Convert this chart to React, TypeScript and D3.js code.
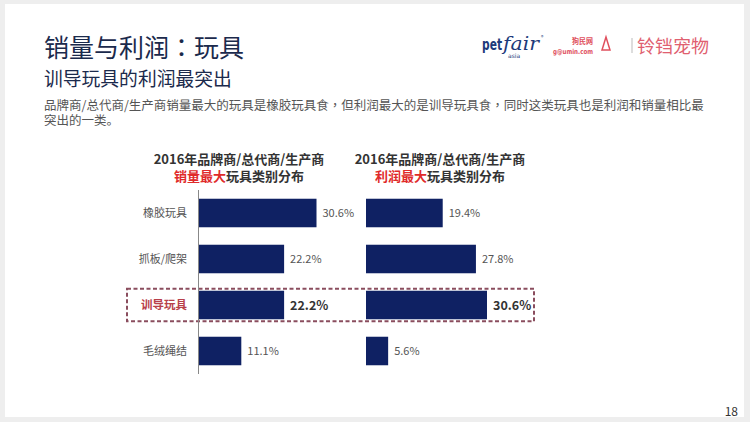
import React from "react";
import * as d3 from "d3";

const categories = ["橡胶玩具", "抓板/爬架", "训导玩具", "毛绒绳结"];
const salesShare = [30.6, 22.2, 22.2, 11.1];
const profitShare = [19.4, 27.8, 30.6, 5.6];
const highlightCategory = "训导玩具";
const leftTitle1 = "2016年品牌商/总代商/生产商";
const leftTitleRed = "销量最大";
const rightTitleRed = "利润最大";
const titleRest = "玩具类别分布";

const FONT = "'Noto Sans CJK SC', 'Noto Sans', sans-serif";
const TC = "'Noto Sans CJK TC', sans-serif";
const NAVY = "#0f2163";
const W = 750;
const H = 422;

export default function App() {
  const y = d3
    .scaleBand<string>()
    .domain(categories)
    .range([190, 374])
    .paddingInner(0.38)
    .paddingOuter(0.19);
  const xL = d3.scaleLinear().domain([0, 30.6]).range([198.5, 316.5]);
  const xR = d3.scaleLinear().domain([0, 30.6]).range([366, 487]);
  const bw = y.bandwidth();
  const hl = y(highlightCategory)!;

  const charts = [
    { x: xL, vals: salesShare, cx: 239, red: leftTitleRed },
    { x: xR, vals: profitShare, cx: 440, red: rightTitleRed },
  ];

  return (
    <div style={{ position: "absolute", left: 0, top: 0, width: W, height: H }}>
      <svg width={W} height={H} style={{ display: "block" }} fontFamily={FONT}>
        <rect x={0} y={0} width={W} height={H} fill="#eeeeee" />
        <rect x={5} y={4} width={739} height={413} fill="#ffffff" />

        {/* Titles */}
        <text x={44} y={57} fontSize={25} fill="#1b2a4c">
          销量与利润<tspan fontFamily={TC}>：</tspan>玩具
        </text>
        <text x={44} y={86} fontSize={18.8} fill="#1b2a4c">训导玩具的利润最突出</text>
        <text x={44} y={110} fontSize={12.5} fill="#555">
          品牌商/总代商/生产商销量最大的玩具是橡胶玩具食<tspan fontFamily={TC}>，</tspan>但利润最大的是训导玩具食<tspan fontFamily={TC}>，</tspan>同时这类玩具也是利润和销量相比最
        </text>
        <text x={44} y={125} fontSize={12.5} fill="#555">突出的一类。</text>

        {/* Logo */}
        <text x={482} y={50} fontSize={16} fontWeight="bold" fill="#1d3a7a" fontFamily="'DejaVu Sans', sans-serif" textLength={20} lengthAdjust="spacingAndGlyphs">pet</text>
        <text x={503} y={50} fontSize={18} fontStyle="italic" fill="#1d3a7a" fontFamily="'DejaVu Serif', serif" textLength={36} lengthAdjust="spacingAndGlyphs">fair</text>
        <text x={541} y={39} fontSize={5} fill="#1d3a7a">®</text>
        <text x={508} y={58} fontSize={6} fill="#1d3a7a" fontFamily="'DejaVu Sans', sans-serif">asia</text>
        <text x={572} y={44} fontSize={7.5} fontWeight="bold" fill="#e0505e" textLength={21} lengthAdjust="spacingAndGlyphs">狗民网</text>
        <text x={553} y={54} fontSize={7} fontWeight="bold" fill="#e0505e" fontFamily="'DejaVu Sans', sans-serif" textLength={40} lengthAdjust="spacingAndGlyphs">g@umin.com</text>
        <path d="M606,37 L602,50 L610,50 Z" fill="none" stroke="#e0505e" strokeWidth={1.5} />
        <line x1={632} y1={38} x2={632} y2={53} stroke="#bbb" strokeWidth={1} />
        <text x={637} y={53} fontSize={18} fill="#e06070">铃铛宠物</text>

        {/* Highlight box */}
        <rect x={127} y={hl - 2} width={407} height={bw + 4} fill="none" stroke="#8a4d5e" strokeWidth={2} strokeDasharray="4,2.5" />

        {/* Charts */}
        {charts.map((c, ci) => (
          <g key={ci}>
            <text x={c.cx} y={164} fontSize={13} fontWeight="bold" fill="#333" textAnchor="middle">{leftTitle1}</text>
            <text x={c.cx} y={181} fontSize={13} fontWeight="bold" textAnchor="middle">
              <tspan fill="#e02a2a">{c.red}</tspan>
              <tspan fill="#333">{titleRest}</tspan>
            </text>
            {categories.map((cat, i) => {
              const isH = cat === highlightCategory;
              const v = c.vals[i];
              return (
                <g key={cat}>
                  <rect x={c.x(0)} y={y(cat)!} width={c.x(v) - c.x(0)} height={bw} fill={NAVY} />
                  <text
                    x={c.x(v) + 6}
                    y={y(cat)! + bw / 2}
                    dy="0.36em"
                    fontSize={isH ? 12.5 : 11}
                    fontWeight={isH ? "bold" : "normal"}
                    fill={isH ? "#333" : "#555"}
                  >
                    {v.toFixed(1)}%
                  </text>
                </g>
              );
            })}
          </g>
        ))}

        {/* Left axis & category labels */}
        <line x1={198.5} y1={190} x2={198.5} y2={374} stroke="#888" strokeWidth={1} />
        {categories.map((cat) => {
          const isH = cat === highlightCategory;
          return (
            <text
              key={cat}
              x={187}
              y={y(cat)! + bw / 2}
              dy="0.36em"
              textAnchor="end"
              fontSize={isH ? 11.5 : 11}
              fontWeight={isH ? "bold" : "normal"}
              fill={isH ? "#b8404a" : "#555"}
            >
              {cat}
            </text>
          );
        })}

        <text x={738} y={416} fontSize={12} fill="#333" textAnchor="end">18</text>
      </svg>
    </div>
  );
}
